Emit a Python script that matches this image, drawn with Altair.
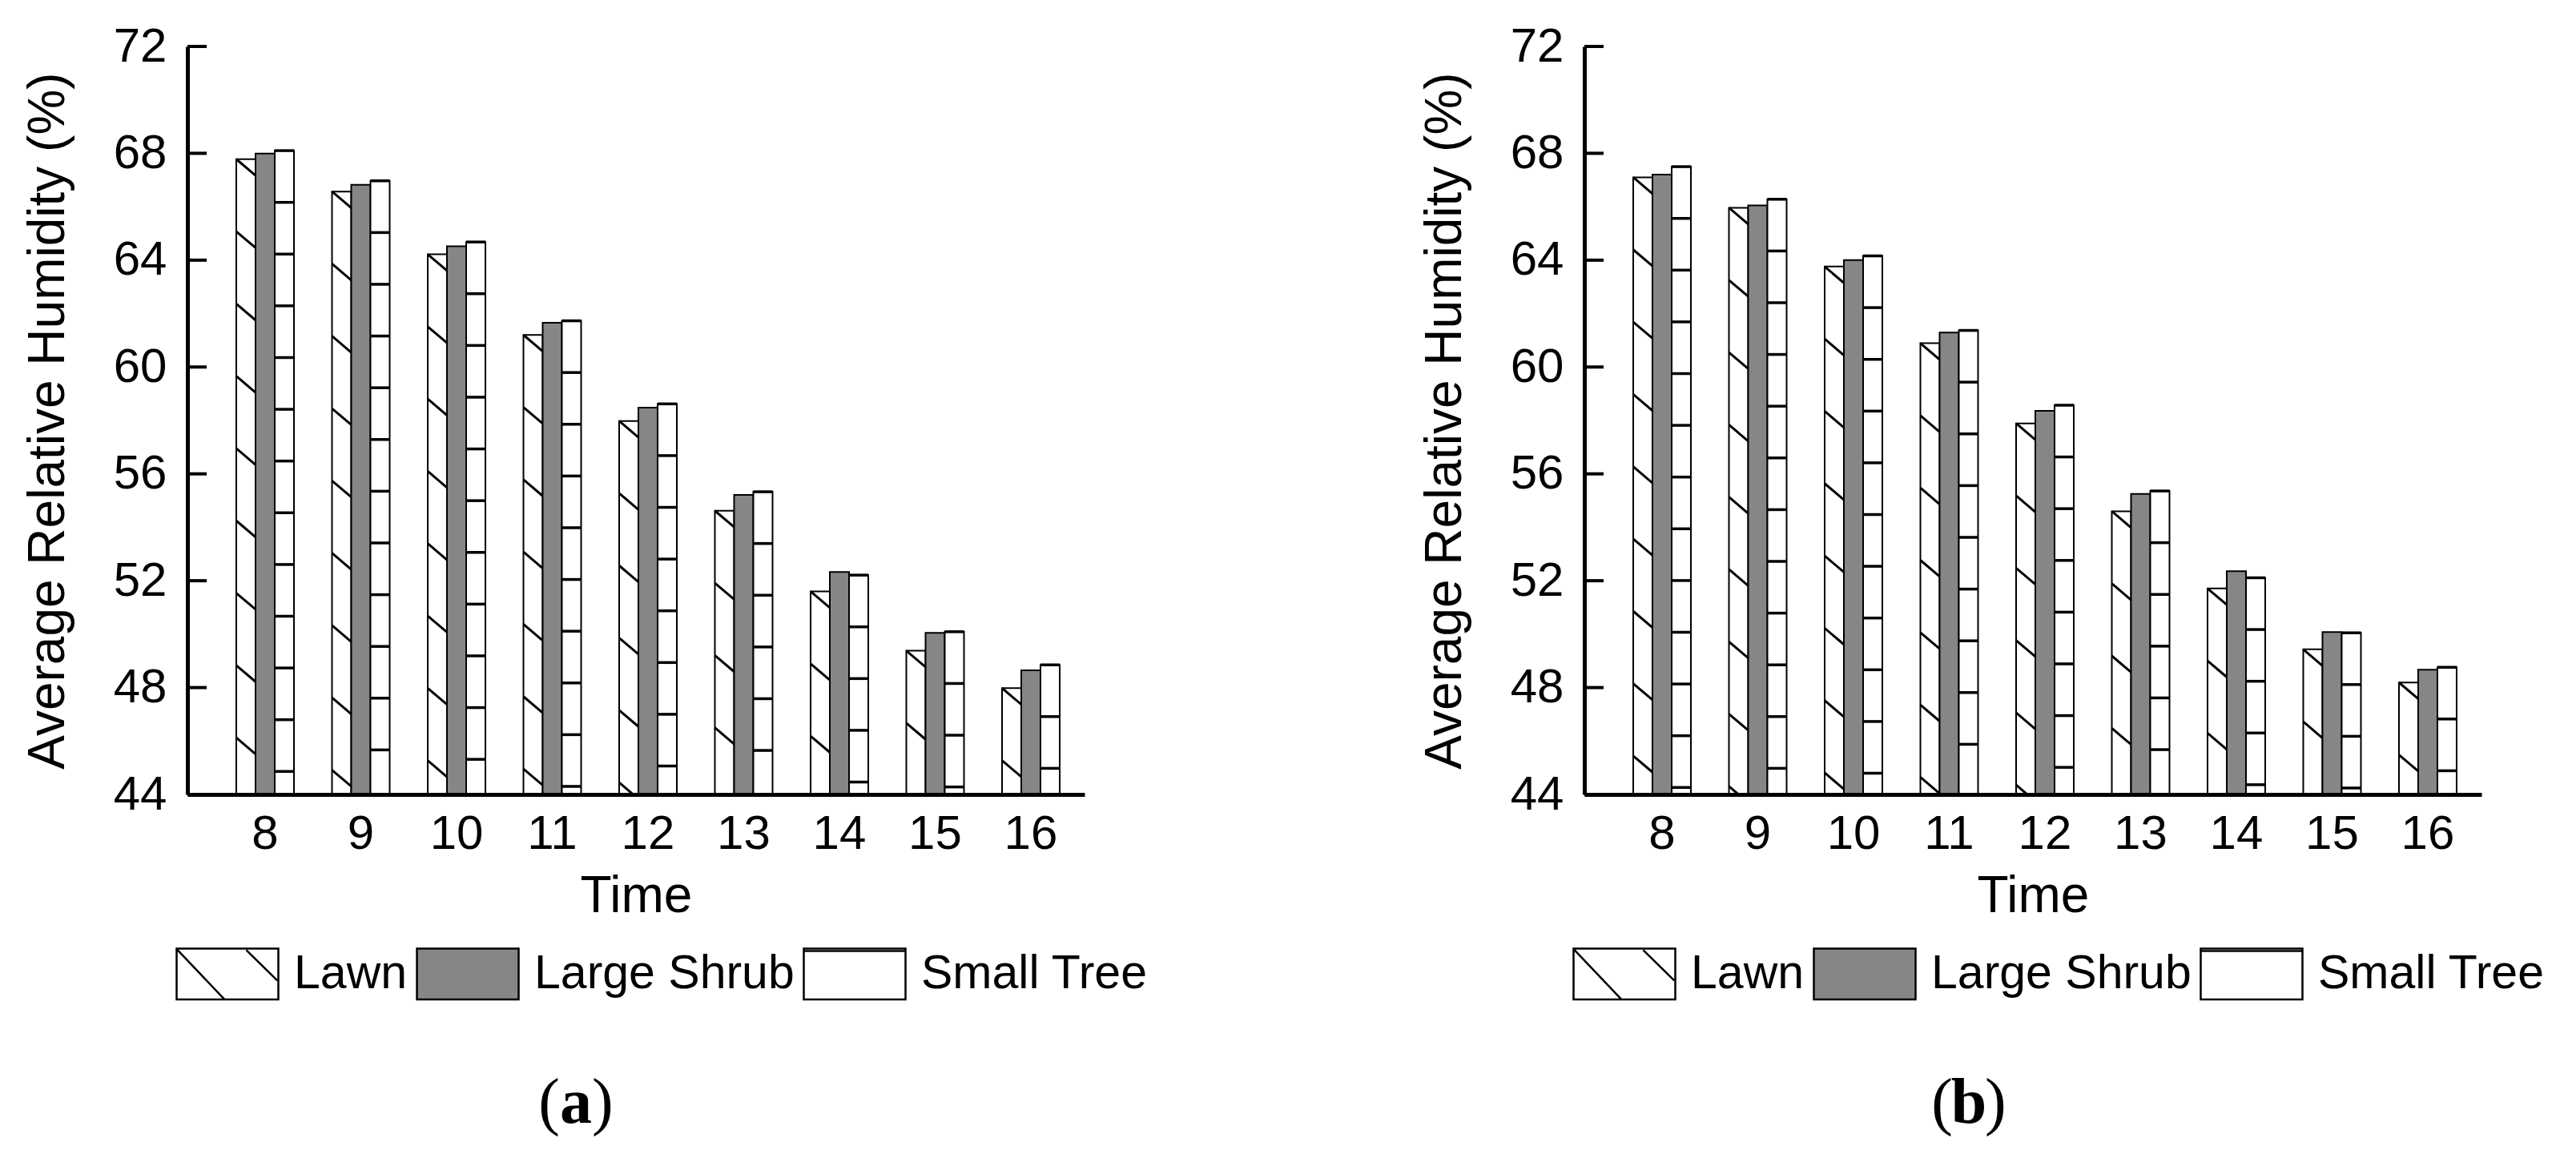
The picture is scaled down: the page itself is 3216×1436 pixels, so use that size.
import altair as alt
import pandas as pd

# ---------------- data ----------------
times = [8, 9, 10, 11, 12, 13, 14, 15, 16]
series = ["Lawn", "Large Shrub", "Small Tree"]
y_ticks = [44, 48, 52, 56, 60, 64, 68, 72]

a_lawn = [67.78, 66.57, 64.22, 61.20, 57.98, 54.62, 51.60, 49.38, 47.98]
a_shrub = [67.99, 66.82, 64.52, 61.66, 58.48, 55.21, 52.33, 50.05, 48.65]
a_tree = [68.10, 66.97, 64.68, 61.73, 58.62, 55.33, 52.21, 50.09, 48.85]

b_lawn = [67.10, 65.96, 63.76, 60.89, 57.89, 54.60, 51.71, 49.43, 48.19]
b_shrub = [67.20, 66.05, 64.00, 61.29, 58.36, 55.25, 52.36, 50.08, 48.67]
b_tree = [67.50, 66.28, 64.16, 61.37, 58.57, 55.36, 52.11, 50.05, 48.76]

# ---------------- style ----------------
FONT = "Liberation Sans"
SERIF = "Liberation Serif"
W, H = 1120, 934
Y_MIN, Y_MAX = 44, 72
PX = H / (Y_MAX - Y_MIN)          # pixels per data unit
LAWN_STEP = 90.3 / PX             # hatch spacing (pattern, not data)
LAWN_HALF = 10.2 / PX
TREE_STEP = 64.6 / PX
GRAY = "#868686"

LAWN_SYM = "M-1,-0.5H1V0.5H-1Z M-0.98,-0.47L-0.06,0.5 M0.37,-0.47L0.98,0.13"
SHRUB_SYM = "M-1,-0.5H1V0.5H-1Z"
TREE_SYM = "M-1,-0.5H1V0.5H-1Z M-1,-0.45H1"


def long_df(lawn, shrub, tree):
    rows = []
    for vals, s in zip((lawn, shrub, tree), series):
        for t, v in zip(times, vals):
            rows.append({"Time": t, "Series": s, "Value": v})
    return pd.DataFrame(rows)


def lawn_hatch(lawn):
    rows = []
    for t, v in zip(times, lawn):
        top = v
        while top > Y_MIN:
            rows.append({"Time": t, "Series": "Lawn", "Value": top - LAWN_HALF})
            top -= LAWN_STEP
    return pd.DataFrame(rows)


def tree_lines(tree):
    rows = []
    for t, v in zip(times, tree):
        pos = v
        while pos > Y_MIN + 0.03:
            rows.append({"Time": t, "Series": "Small Tree", "Value": pos})
            pos -= TREE_STEP
    return pd.DataFrame(rows)


x_scale = alt.Scale(domain=times, paddingInner=0.3975, paddingOuter=0.385, align=0.663)
xo_scale = alt.Scale(domain=series, paddingInner=0, paddingOuter=0)
y_scale = alt.Scale(domain=[Y_MIN, Y_MAX], nice=False, zero=False)

x_axis = alt.Axis(title="Time", labelAngle=0, ticks=False, tickSize=0, labelPadding=20,
                  labelFont=FONT, labelFontSize=60, labelColor="black",
                  titleFont=FONT, titleFontSize=64, titleFontWeight="normal", titleColor="black",
                  titlePadding=16, domainColor="black", domainWidth=5, grid=False, zindex=1)
y_axis = alt.Axis(title="Average Relative Humidity (%)", values=y_ticks, ticks=False, tickSize=0,
                  labelPadding=26, labelFont=FONT, labelFontSize=60, labelColor="black",
                  titleFont=FONT, titleFontSize=64, titleFontWeight="normal", titleColor="black",
                  titlePadding=49, domainColor="black", domainWidth=5, grid=False, zindex=1)

legend = alt.Legend(orient="none", legendX=-15, legendY=1093, direction="horizontal", title=None,
                    symbolSize=16129, symbolStrokeColor="black", symbolStrokeWidth=2.5,
                    symbolOpacity=1, labelFont=FONT, labelFontSize=59, labelColor="black",
                    labelOffset=18, columnPadding=6, padding=0, labelLimit=1000)


def panel(lawn, shrub, tree, letter, letter_x):
    bars_df = long_df(lawn, shrub, tree)
    x = alt.X("Time:O", scale=x_scale, axis=x_axis)
    xo = alt.XOffset("Series:N", scale=xo_scale)
    y = alt.Y("Value:Q", scale=y_scale, axis=y_axis)

    legend_layer = alt.Chart(bars_df).mark_point(
        filled=True, opacity=0, strokeWidth=2.5).encode(
        x=x, xOffset=xo, y=y,
        fill=alt.Fill("Series:N", scale=alt.Scale(domain=series, range=["white", GRAY, "white"]),
                      legend=legend),
        stroke=alt.Stroke("Series:N", scale=alt.Scale(domain=series, range=["black", "black", "black"]),
                          legend=legend),
        shape=alt.Shape("Series:N", scale=alt.Scale(domain=series, range=[LAWN_SYM, SHRUB_SYM, TREE_SYM]),
                        legend=legend),
    )
    bars = alt.Chart(bars_df).mark_bar(stroke="black", strokeWidth=2, opacity=1).encode(
        x=x, xOffset=xo, y=y, y2=alt.datum(Y_MIN),
        fill=alt.condition(alt.datum.Series == "Large Shrub", alt.value(GRAY), alt.value("white")),
    )
    hatch = alt.Chart(lawn_hatch(lawn)).mark_point(
        shape="M-1,-0.85L1,0.85", size=576, filled=False, stroke="black", strokeWidth=3,
        opacity=1, clip=True).encode(x=x, xOffset=xo, y=y)
    lines = alt.Chart(tree_lines(tree)).mark_tick(
        thickness=3.5, size=24, color="black", opacity=1, clip=True).encode(x=x, xOffset=xo, y=y)
    yticks = alt.Chart(pd.DataFrame({"Value": y_ticks})).mark_rule(
        color="black", strokeWidth=4).encode(y=y, x=alt.value(0), x2=alt.value(24))

    one = pd.DataFrame({"k": [0]})
    base_y = 1344
    lp = alt.Chart(one).mark_text(text="(", font=SERIF, fontSize=80, align="right",
                                  baseline="alphabetic", color="black").encode(
        x=alt.value(letter_x - 20), y=alt.value(base_y))
    lt = alt.Chart(one).mark_text(text=letter, font=SERIF, fontSize=80, fontWeight="bold",
                                  align="center", baseline="alphabetic", color="black").encode(
        x=alt.value(letter_x), y=alt.value(base_y))
    rp = alt.Chart(one).mark_text(text=")", font=SERIF, fontSize=80, align="left",
                                  baseline="alphabetic", color="black").encode(
        x=alt.value(letter_x + 20), y=alt.value(base_y))

    return alt.layer(legend_layer, bars, hatch, lines, yticks, lp, lt, rp).properties(width=W, height=H)


pa = panel(a_lawn, a_shrub, a_tree, "a", 485)
pb = panel(b_lawn, b_shrub, b_tree, "b", 480)

chart = alt.hconcat(pa, pb, spacing=624, bounds="flush").resolve_scale(
    fill="independent", stroke="independent", shape="independent"
).resolve_legend(
    fill="independent", stroke="independent", shape="independent"
).properties(
    padding={"left": 20, "top": 20, "right": 10, "bottom": 5},
    background="white",
).configure_view(strokeWidth=0, stroke="transparent")

chart.save("out.html", embed_options={"renderer": "svg", "actions": False})
